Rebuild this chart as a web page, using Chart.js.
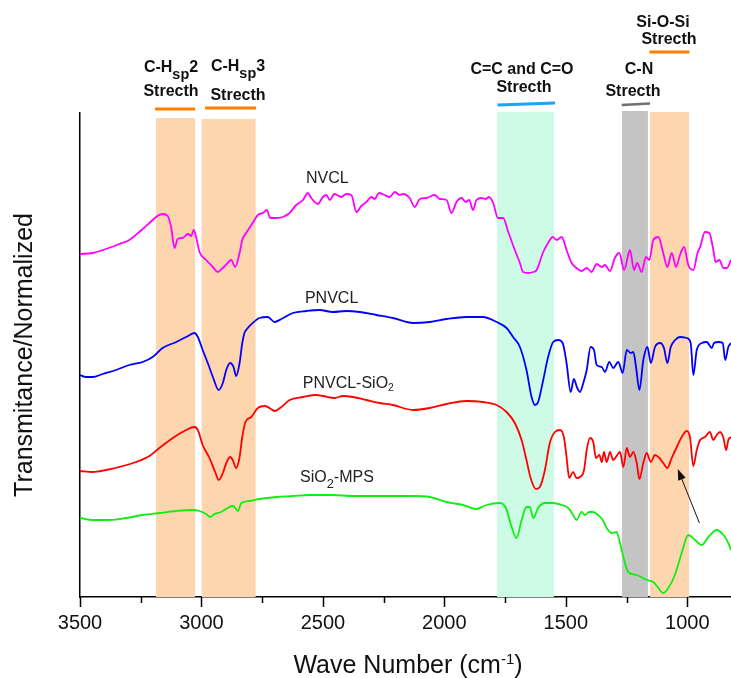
<!DOCTYPE html>
<html>
<head>
<meta charset="utf-8">
<script src="https://cdn.jsdelivr.net/npm/chart.js@4.4.1/dist/chart.umd.min.js"></script>
<style>
  html, body { margin: 0; padding: 0; background: #fff; }
</style>
</head>
<body>
<canvas id="ftir" width="731" height="678"></canvas>
<script>
// FTIR spectra, wavenumber (cm-1) vs normalized transmittance (offset traces)
const nvclWn = [3500,3448,3393,3338,3297,3256,3214,3187,3160,3139,3125,3111,3098,3077,3056,3042,3032,3022,3008,2981,2953,2933,2912,2892,2878,2861,2843,2832,2816,2789,2768,2747,2731,2717,2692,2665,2637,2610,2582,2562,2548,2521,2500,2486,2472,2452,2424,2404,2383,2362,2342,2321,2300,2287,2269,2246,2225,2204,2184,2170,2143,2122,2101,2074,2040,2019,1991,1971,1950,1929,1912,1898,1882,1868,1847,1829,1816,1799,1779,1758,1737,1710,1689,1676,1655,1634,1620,1593,1573,1554,1538,1517,1497,1476,1456,1435,1414,1394,1373,1352,1339,1318,1298,1280,1260,1236,1219,1206,1188,1170,1156,1140,1119,1099,1082,1064,1046,1030,1013,996,975,958,947,927,909,895,883,868,851,837,820]
const nvclT = [343,344,348,353,357,365,374,380,383,381,370,349,358,359,363,361,367,360,345,337,330,325,329,334,337,330,344,357,364,374,382,384,387,379,379,380,384,392,397,404,399,393,400,402,397,403,400,403,402,385,391,395,400,398,404,402,400,405,402,403,399,390,398,399,402,398,397,384,395,399,395,397,387,397,399,398,400,394,379,379,365,347,334,325,324,325,327,345,354,360,357,360,347,334,329,326,329,325,333,330,332,326,339,344,327,347,327,334,325,340,337,357,360,344,330,344,330,342,350,332,327,344,350,365,364,350,335,337,329,329,337]

const pnvclWn = [3500,3475,3448,3407,3352,3297,3242,3201,3160,3104,3063,3029,3015,2995,2974,2953,2929,2912,2898,2882,2868,2857,2843,2832,2823,2816,2789,2761,2727,2699,2671,2624,2568,2514,2459,2404,2349,2280,2212,2129,2060,1991,1909,1841,1785,1744,1717,1689,1662,1641,1627,1614,1593,1573,1552,1531,1513,1497,1480,1467,1453,1442,1428,1414,1398,1384,1373,1352,1339,1321,1305,1284,1266,1249,1233,1222,1211,1197,1181,1164,1150,1133,1112,1096,1082,1068,1050,1030,1002,986,975,961,940,920,899,890,872,854,844,831,820]
const pnvclT = [222,220,220,223,227,232,235,240,249,255,260,264,260,247,234,220,207,214,227,234,230,221,234,254,264,267,274,279,280,275,278,284,286,287,285,286,285,282,279,274,275,278,280,280,275,269,260,250,227,200,192,195,217,240,255,257,254,234,205,218,209,205,214,227,250,247,232,230,225,235,229,235,224,247,244,245,230,207,237,250,234,250,254,249,234,250,257,260,259,254,222,247,254,255,249,254,255,254,237,250,254]

const silicaWn = [3500,3448,3393,3338,3269,3214,3173,3118,3063,3029,3015,2995,2967,2942,2929,2912,2896,2882,2871,2857,2843,2832,2819,2795,2768,2740,2720,2699,2671,2637,2582,2527,2500,2452,2418,2376,2321,2266,2212,2129,2060,1991,1909,1841,1785,1744,1710,1682,1662,1645,1623,1607,1586,1566,1545,1524,1508,1497,1486,1470,1456,1442,1425,1414,1401,1387,1376,1362,1352,1343,1332,1318,1305,1288,1277,1263,1249,1236,1222,1208,1197,1181,1167,1150,1133,1115,1099,1082,1064,1043,1023,1002,989,975,961,947,927,907,893,879,865,851,840,831,820]
const silicaT = [126,125,127,130,135,141,149,159,167,170,167,152,139,124,117,124,135,140,137,129,140,160,175,180,189,191,189,186,190,197,200,202,201,199,201,200,197,194,192,187,189,193,196,195,192,185,174,157,137,119,108,110,127,154,165,167,160,140,119,125,119,120,127,147,159,155,139,142,135,145,135,145,137,142,145,130,149,140,145,134,118,134,144,135,142,139,134,129,139,150,160,166,160,131,147,157,160,165,157,162,165,159,147,157,160]

const mpsWn = [3500,3448,3379,3310,3242,3173,3104,3036,3008,2981,2964,2946,2919,2892,2873,2864,2850,2836,2802,2761,2692,2624,2555,2459,2376,2294,2184,2129,2060,1991,1923,1868,1827,1772,1747,1723,1703,1682,1662,1648,1634,1614,1586,1552,1517,1490,1470,1456,1435,1421,1404,1387,1367,1348,1332,1311,1291,1280,1263,1243,1208,1167,1140,1119,1099,1078,1051,1023,996,968,940,913,879,851,831,820]
const mpsT = [79,77,77,79,82,84,86,87,86,83,80,83,85,89,91,90,86,94,96,98,100,101,102,102,101,101,101,101,100,95,92,88,92,94,89,70,59,77,90,90,79,89,94,94,92,89,82,77,85,82,85,85,82,77,69,64,65,57,40,25,22,17,15,9,4,9,22,44,62,57,52,60,67,62,54,47]

const seriesNames = ['NVCL', 'PNVCL', 'PNVCL-SiO2', 'SiO2-MPS']
const tickValues = [3500, 3250, 3000, 2750, 2500, 2250, 2000, 1750, 1500, 1250, 1000]

// assigned vibration bands (cm-1)
const bandFrom = [3187, 2999, 1783, 1269, 1153]
const bandTo = [3026, 2777, 1549, 1162, 993]

const bandFill = ['#fdd5ae', '#fdd5ae', '#cdfbe6', '#c4c4c4', '#fdd5ae']
const bandTop = [118, 119, 112, 111, 112]
const FONT = '"Liberation Sans", Arial, sans-serif'

function toPoints(wn, t) {
	return wn.map((x, i) => ({ x: x, y: t[i] }))
}

// text with sub/superscript pieces: [text, scale, dy]
function richText(ctx, parts, x, base, size, weight, align) {
	const widths = parts.map((p) => {
		ctx.font = weight + ' ' + size * (p[1] || 1) + 'px ' + FONT
		return ctx.measureText(p[0]).width
	})
	const total = widths.reduce((a, b) => a + b, 0)
	let cx = align === 'left' ? x : x - total / 2
	parts.forEach((p, i) => {
		ctx.font = weight + ' ' + size * (p[1] || 1) + 'px ' + FONT
		ctx.fillText(p[0], cx, base + (p[2] || 0))
		cx += widths[i]
	})
}

const ftirDecor = {
	id: 'ftirDecor',
	beforeDatasetsDraw(chart) {
		const { ctx, scales } = chart
		const x = scales.x
		const y = scales.y
		ctx.save()
		bandFrom.forEach((from, i) => {
			const x1 = x.getPixelForValue(from)
			const x2 = x.getPixelForValue(bandTo[i])
			ctx.fillStyle = bandFill[i]
			ctx.fillRect(x1, bandTop[i], x2 - x1, y.bottom - bandTop[i])
		})
		ctx.restore()
	},
	afterDraw(chart) {
		const { ctx, scales } = chart
		const x = scales.x
		const y = scales.y
		ctx.save()

		// tick marks, long at labelled values
		ctx.strokeStyle = '#000'
		ctx.lineWidth = 1.5
		x.ticks.forEach((t) => {
			const px = Math.round(x.getPixelForValue(t.value)) + 0.5
			ctx.beginPath()
			ctx.moveTo(px, y.bottom)
			ctx.lineTo(px, y.bottom + (t.value % 500 === 0 ? 10 : 6))
			ctx.stroke()
		})

		// coloured bars over the bands
		const bars = [
			[3191, 3026, 109, 109, '#ff8000', 3],
			[2985, 2775, 108, 108, '#ff8000', 3],
			[1781, 1544, 105, 103, '#1aa3ff', 3],
			[1270, 1153, 105, 103.5, '#6f6f6f', 2.5],
			[1156, 991, 52, 52, '#ff8000', 3],
		]
		bars.forEach((b) => {
			ctx.strokeStyle = b[4]
			ctx.lineWidth = b[5]
			ctx.beginPath()
			ctx.moveTo(x.getPixelForValue(b[0]), b[2])
			ctx.lineTo(x.getPixelForValue(b[1]), b[3])
			ctx.stroke()
		})

		// band names
		ctx.fillStyle = '#111'
		ctx.textBaseline = 'alphabetic'
		ctx.textAlign = 'left'
		richText(ctx, [['C-H'], ['sp', 0.9, 7], ['2']], 171, 72, 16, 'bold')
		richText(ctx, [['Strecth']], 171, 96, 16, 'bold')
		richText(ctx, [['C-H'], ['sp', 0.9, 7], ['3']], 238, 71, 16, 'bold')
		richText(ctx, [['Strecth']], 238, 100, 16, 'bold')
		richText(ctx, [['C=C and C=O']], 522, 74, 16, 'bold')
		richText(ctx, [['Strecth']], 524, 92, 16, 'bold')
		richText(ctx, [['C-N']], 639, 74, 16, 'bold')
		richText(ctx, [['Strecth']], 633, 96, 16, 'bold')
		richText(ctx, [['Si-O-Si']], 663, 27, 16, 'bold')
		richText(ctx, [['Strecth']], 669, 44, 16, 'bold')

		// trace names
		ctx.fillStyle = '#222'
		richText(ctx, [[seriesNames[0]]], x.getPixelForValue(2570), y.getPixelForValue(414), 16, 'normal', 'left')
		richText(ctx, [[seriesNames[1]]], x.getPixelForValue(2574), y.getPixelForValue(294), 16, 'normal', 'left')
		richText(ctx, [['PNVCL-SiO'], ['2', 0.65, 3]], x.getPixelForValue(2583), y.getPixelForValue(209), 16, 'normal', 'left')
		richText(ctx, [['SiO'], ['2', 0.8, 6], ['-MPS']], x.getPixelForValue(2594), y.getPixelForValue(115), 16, 'normal', 'left')

		// arrow to the Si-O-Si shoulder
		const ax1 = x.getPixelForValue(950)
		const ay1 = y.getPixelForValue(74)
		const ax2 = x.getPixelForValue(1039)
		const ay2 = y.getPixelForValue(128)
		const ang = Math.atan2(ay2 - ay1, ax2 - ax1)
		ctx.strokeStyle = '#111'
		ctx.fillStyle = '#111'
		ctx.lineWidth = 1
		ctx.beginPath()
		ctx.moveTo(ax1, ay1)
		ctx.lineTo(ax2 - 8 * Math.cos(ang), ay2 - 8 * Math.sin(ang))
		ctx.stroke()
		ctx.beginPath()
		ctx.moveTo(ax2, ay2)
		ctx.lineTo(ax2 - 11 * Math.cos(ang) + 4 * Math.sin(ang), ay2 - 11 * Math.sin(ang) - 4 * Math.cos(ang))
		ctx.lineTo(ax2 - 11 * Math.cos(ang) - 4 * Math.sin(ang), ay2 - 11 * Math.sin(ang) + 4 * Math.cos(ang))
		ctx.closePath()
		ctx.fill()

		// x axis title with superscript
		ctx.fillStyle = '#111'
		richText(ctx, [['Wave Number (cm'], ['-1', 0.6, -9], [')']], 408, 673, 25, 'normal')
		ctx.restore()
	},
}

const ctx = document.getElementById('ftir').getContext('2d')
const ftirChart = new Chart(ctx, {
	type: 'line',
	data: {
		datasets: [
			{ label: seriesNames[0], data: toPoints(nvclWn, nvclT), borderColor: '#ff00ff' },
			{ label: seriesNames[1], data: toPoints(pnvclWn, pnvclT), borderColor: '#0000ff' },
			{ label: seriesNames[2], data: toPoints(silicaWn, silicaT), borderColor: '#ff0000' },
			{ label: seriesNames[3], data: toPoints(mpsWn, mpsT), borderColor: '#11ee11' },
		],
	},
	options: {
		responsive: false,
		animation: false,
		layout: { padding: { top: 113, left: 0, right: 0, bottom: 0 } },
		elements: {
			point: { radius: 0 },
			line: { borderWidth: 1.8, cubicInterpolationMode: 'monotone', fill: false },
		},
		plugins: {
			legend: { display: false },
			tooltip: { enabled: false },
		},
		scales: {
			x: {
				type: 'linear',
				reverse: true,
				min: 820,
				max: 3500,
				afterBuildTicks: (s) => {
					s.ticks = tickValues.map((v) => ({ value: v }))
				},
				afterFit: (s) => {
					s.height = 81
				},
				grid: { display: false, drawTicks: false },
				border: { display: true, color: '#000', width: 1.5 },
				ticks: {
					padding: 14,
					color: '#111',
					font: { family: FONT, size: 20 },
					maxRotation: 0,
					autoSkip: false,
					callback: (v) => (v % 500 === 0 ? String(v) : ''),
				},
			},
			y: {
				min: 0,
				max: 484,
				afterFit: (s) => {
					s.width = 80
				},
				grid: { display: false, drawTicks: false },
				border: { display: true, color: '#000', width: 1.5 },
				ticks: { display: false },
				title: {
					display: true,
					text: 'Transmitance/Normalized',
					color: '#111',
					font: { family: FONT, size: 25 },
					padding: { top: 10, bottom: 0 },
				},
			},
		},
	},
	plugins: [ftirDecor],
})
</script>
</body>
</html>
